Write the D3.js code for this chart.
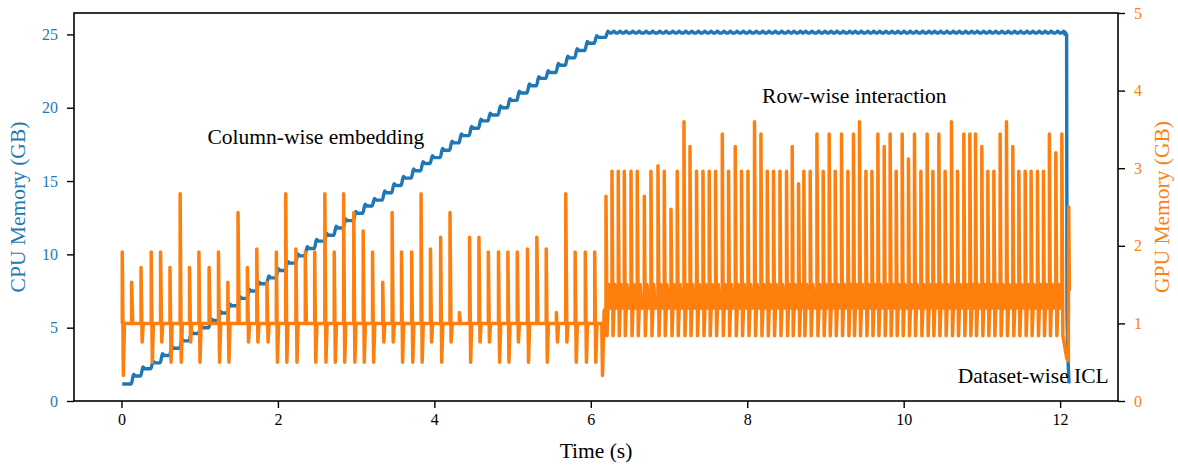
<!DOCTYPE html>
<html><head><meta charset="utf-8">
<script src="https://cdn.jsdelivr.net/npm/d3@7"></script>
<style>
body{margin:0;background:#fff}
svg text{font-family:"Liberation Serif","Times New Roman",serif}
</style>
</head><body>
<svg id="c" width="1178" height="467"></svg>
<script>
// ---------------- data ----------------
const xTicks = [0, 2, 4, 6, 8, 10, 12];
const cpuTicks = [0, 5, 10, 15, 20, 25];
const gpuTicks = [0, 1, 2, 3, 4, 5];

// phase 1 (column-wise embedding): one GPU spike per batch
const phase1Times = [0.01,0.13,0.25,0.38,0.50,0.62,0.75,0.87,0.99,1.12,
  1.24,1.36,1.49,1.61,1.73,1.86,1.98,2.10,2.23,2.35,
  2.47,2.60,2.72,2.84,2.97,3.09,3.21,3.34,3.46,3.58,
  3.71,3.83,3.95,4.08,4.20,4.32,4.45,4.57,4.69,4.82,
  4.94,5.06,5.19,5.31,5.43,5.56,5.68,5.80,5.93,6.05];
const phase1Peaks = [1.92,1.53,1.72,1.92,1.92,1.72,2.67,1.72,1.92,1.72,
  1.92,1.53,2.43,1.72,1.96,1.53,1.92,2.67,1.96,1.92,
  1.92,2.67,1.92,2.67,2.43,2.19,1.92,1.53,2.43,1.92,
  1.92,2.67,1.96,2.11,2.43,1.14,2.11,2.11,1.92,1.92,
  1.92,1.92,1.96,2.11,1.96,1.14,2.67,1.92,1.92,1.92];
const phase1Troughs = [0.33,1.0,0.76,0.5,0.76,0.5,0.5,0.76,0.5,1.0,
  0.5,0.5,1.0,0.76,0.76,0.76,0.5,0.5,0.5,1.0,
  0.5,0.5,0.5,0.5,0.5,0.5,0.5,0.76,0.76,0.5,
  0.5,0.5,0.76,0.5,0.76,1.0,0.5,0.76,0.76,0.5,
  0.5,0.76,0.5,1.0,0.5,0.76,0.76,0.5,0.5,0.5];
const gpuIdle = 1.0;
const cpuLevels = [1.16,1.7,2.2,2.6,3.1,3.6,4.1,4.6,5.0,5.5,
  6.0,6.5,7.0,7.5,8.0,8.4,8.9,9.4,9.9,10.4,
  10.9,11.3,11.8,12.3,12.8,13.3,13.7,14.2,14.7,15.2,
  15.7,16.2,16.6,17.1,17.6,18.1,18.6,19.1,19.5,20.0,
  20.5,21.0,21.5,22.0,22.4,22.9,23.4,23.9,24.4,24.8];

// transition between phases
const gpuTransTimes = [6.14, 6.15, 6.17];
const gpuTransValues = [1.0, 0.33, 1.16];

// phase 2 (row-wise interaction)
const phase2Times = [6.194,6.271,6.351,6.428,6.514,6.594,6.684,6.769,6.859,6.939,
  7.025,7.105,7.191,7.268,7.352,7.434,7.514,7.595,7.681,7.761,
  7.847,7.927,8.009,8.093,8.175,8.256,8.336,8.418,8.502,8.575,
  8.656,8.724,8.805,8.891,8.971,9.048,9.125,9.205,9.287,9.358,
  9.435,9.517,9.594,9.670,9.751,9.827,9.904,9.981,10.061,10.138,
  10.220,10.300,10.373,10.450,10.530,10.611,10.688,10.769,10.846,10.918,
  10.999,11.076,11.153,11.233,11.314,11.395,11.472,11.553,11.629,11.710,
  11.787,11.863,11.945,12.022];
const phase2Peaks = [2.64,2.96,2.96,2.96,2.96,2.96,2.64,2.96,3.03,2.96,
  2.47,2.96,3.6,3.28,2.96,2.96,2.96,2.96,3.44,2.96,
  3.28,2.96,2.96,3.6,3.44,2.96,2.96,2.96,2.96,3.28,
  2.8,2.96,2.96,3.44,2.96,3.44,2.96,3.44,2.96,3.44,
  3.6,2.96,2.96,3.44,3.28,3.44,2.96,3.44,3.12,3.44,
  2.96,3.44,2.96,3.44,2.96,3.6,2.96,3.44,3.44,3.44,
  3.28,2.96,2.96,3.44,3.6,3.28,2.96,2.96,2.96,2.96,
  2.96,3.44,3.2,3.44];
const phase2Floor = 0.84;
const phase2BandHigh = 1.5;
const phase2BandLow = 1.2;
const cpuPlateauLevel = 25.1;

// phase 3 (dataset-wise ICL) tails
const gpuTailTimes = [12.085, 12.105, 12.11, 12.118];
const gpuTailValues = [0.55, 0.52, 2.5, 1.42];
const cpuTailTimes = [12.06, 12.083, 12.088, 12.115];
const cpuTailValues = [25.0, 25.0, 6.0, 1.2];

const annotations = [
  {text: "Column-wise embedding", t: 1.10, cpu: 17.5},
  {text: "Row-wise interaction", t: 8.19, cpu: 20.3},
  {text: "Dataset-wise ICL", t: 10.69, cpu: 1.23}
];

// ---------------- layout ----------------
const BLUE = "#1f77b4", ORANGE = "#ff7f0e";
const L = 74, R = 1118, T = 13, B = 401;
const svg = d3.select("#c");
const x = d3.scaleLinear().domain([-0.607, 12.74]).range([L, R]);
const yC = d3.scaleLinear().domain([0, 26.46]).range([B, T]);
const yG = d3.scaleLinear().domain([0, 5]).range([B, T]);

// ---------------- build CPU line ----------------
const cpuPts = [[phase1Times[0], cpuLevels[0]]];
const stepTimes = phase1Times.concat(phase2Times);
const stepLevels = cpuLevels.concat(phase2Times.map(() => cpuPlateauLevel));
const bump = 0.12;
for (let i = 1; i < stepTimes.length; i++) {
  const t = stepTimes[i];
  cpuPts.push([t - 0.005, stepLevels[i - 1]]);
  cpuPts.push([t + 0.025, stepLevels[i] + bump]);
  cpuPts.push([t + 0.05, stepLevels[i]]);
}
cpuTailTimes.forEach((t, k) => cpuPts.push([t, cpuTailValues[k]]));

// ---------------- build GPU line ----------------
const gpuPts = [];
phase1Times.forEach((t, i) => {
  gpuPts.push([t, gpuIdle]);
  gpuPts.push([t, phase1Peaks[i]]);
  gpuPts.push([t + 0.014, phase1Troughs[i]]);
  gpuPts.push([t + 0.028, gpuIdle]);
});
gpuTransTimes.forEach((t, k) => gpuPts.push([t, gpuTransValues[k]]));
phase2Times.forEach((t, j) => {
  gpuPts.push([t, phase2BandLow]);
  gpuPts.push([t, phase2Peaks[j]]);
  gpuPts.push([t + 0.013, phase2Floor]);
  gpuPts.push([t + 0.035, phase2BandHigh]);
  gpuPts.push([t + 0.057, phase2BandLow]);
});
// last spike ends on the floor before the final drop
gpuPts.splice(gpuPts.length - 2, 2);
gpuTailTimes.forEach((t, k) => gpuPts.push([t, gpuTailValues[k]]));

// ---------------- draw ----------------
const lineC = d3.line().x(d => x(d[0])).y(d => yC(d[1])).curve(d3.curveMonotoneX);
const lineG = d3.line().x(d => x(d[0])).y(d => yG(d[1]));

svg.append("path").attr("d", lineC(cpuPts))
  .attr("fill", "none").attr("stroke", BLUE).attr("stroke-width", 3.4)
  .attr("stroke-linejoin", "round");
svg.append("path").attr("d", lineG(gpuPts))
  .attr("fill", "none").attr("stroke", ORANGE).attr("stroke-width", 3.5)
  .attr("stroke-linejoin", "round");

// annotations
annotations.forEach(a => {
  svg.append("text").attr("x", x(a.t)).attr("y", yC(a.cpu))
    .attr("font-size", 21.5).attr("fill", "#000").text(a.text);
});

// axes
const ax = svg.append("g").attr("transform", `translate(0,${B})`)
  .call(d3.axisBottom(x).tickValues(xTicks).tickSize(7).tickPadding(6).tickFormat(d3.format("d")));
const ayl = svg.append("g").attr("transform", `translate(${L},0)`)
  .call(d3.axisLeft(yC).tickValues(cpuTicks).tickSize(7).tickPadding(9).tickFormat(d3.format("d")));
const ayr = svg.append("g").attr("transform", `translate(${R},0)`)
  .call(d3.axisRight(yG).tickValues(gpuTicks).tickSize(7).tickPadding(9).tickFormat(d3.format("d")));
[ax, ayl, ayr].forEach(g => {
  g.select(".domain").remove();
  g.selectAll(".tick line").attr("stroke", "#000").attr("stroke-width", 1.4);
  g.selectAll(".tick text").attr("font-size", 16).attr("font-family", "Liberation Serif, serif");
});
ax.selectAll(".tick text").attr("fill", "#000");
ayl.selectAll(".tick text").attr("fill", BLUE);
ayr.selectAll(".tick text").attr("fill", ORANGE);

// frame
svg.append("rect").attr("x", L).attr("y", T).attr("width", R - L).attr("height", B - T)
  .attr("fill", "none").attr("stroke", "#000").attr("stroke-width", 1.6);

// axis labels
svg.append("text").attr("x", (L + R) / 2).attr("y", 458).attr("text-anchor", "middle")
  .attr("font-size", 21.5).attr("fill", "#000").text("Time (s)");
svg.append("text").attr("transform", `translate(25,${(T + B) / 2}) rotate(-90)`)
  .attr("text-anchor", "middle").attr("font-size", 21.5).attr("fill", BLUE).text("CPU Memory (GB)");
svg.append("text").attr("transform", `translate(1169,${(T + B) / 2}) rotate(-90)`)
  .attr("text-anchor", "middle").attr("font-size", 21.5).attr("fill", ORANGE).text("GPU Memory (GB)");
</script>
</body></html>
